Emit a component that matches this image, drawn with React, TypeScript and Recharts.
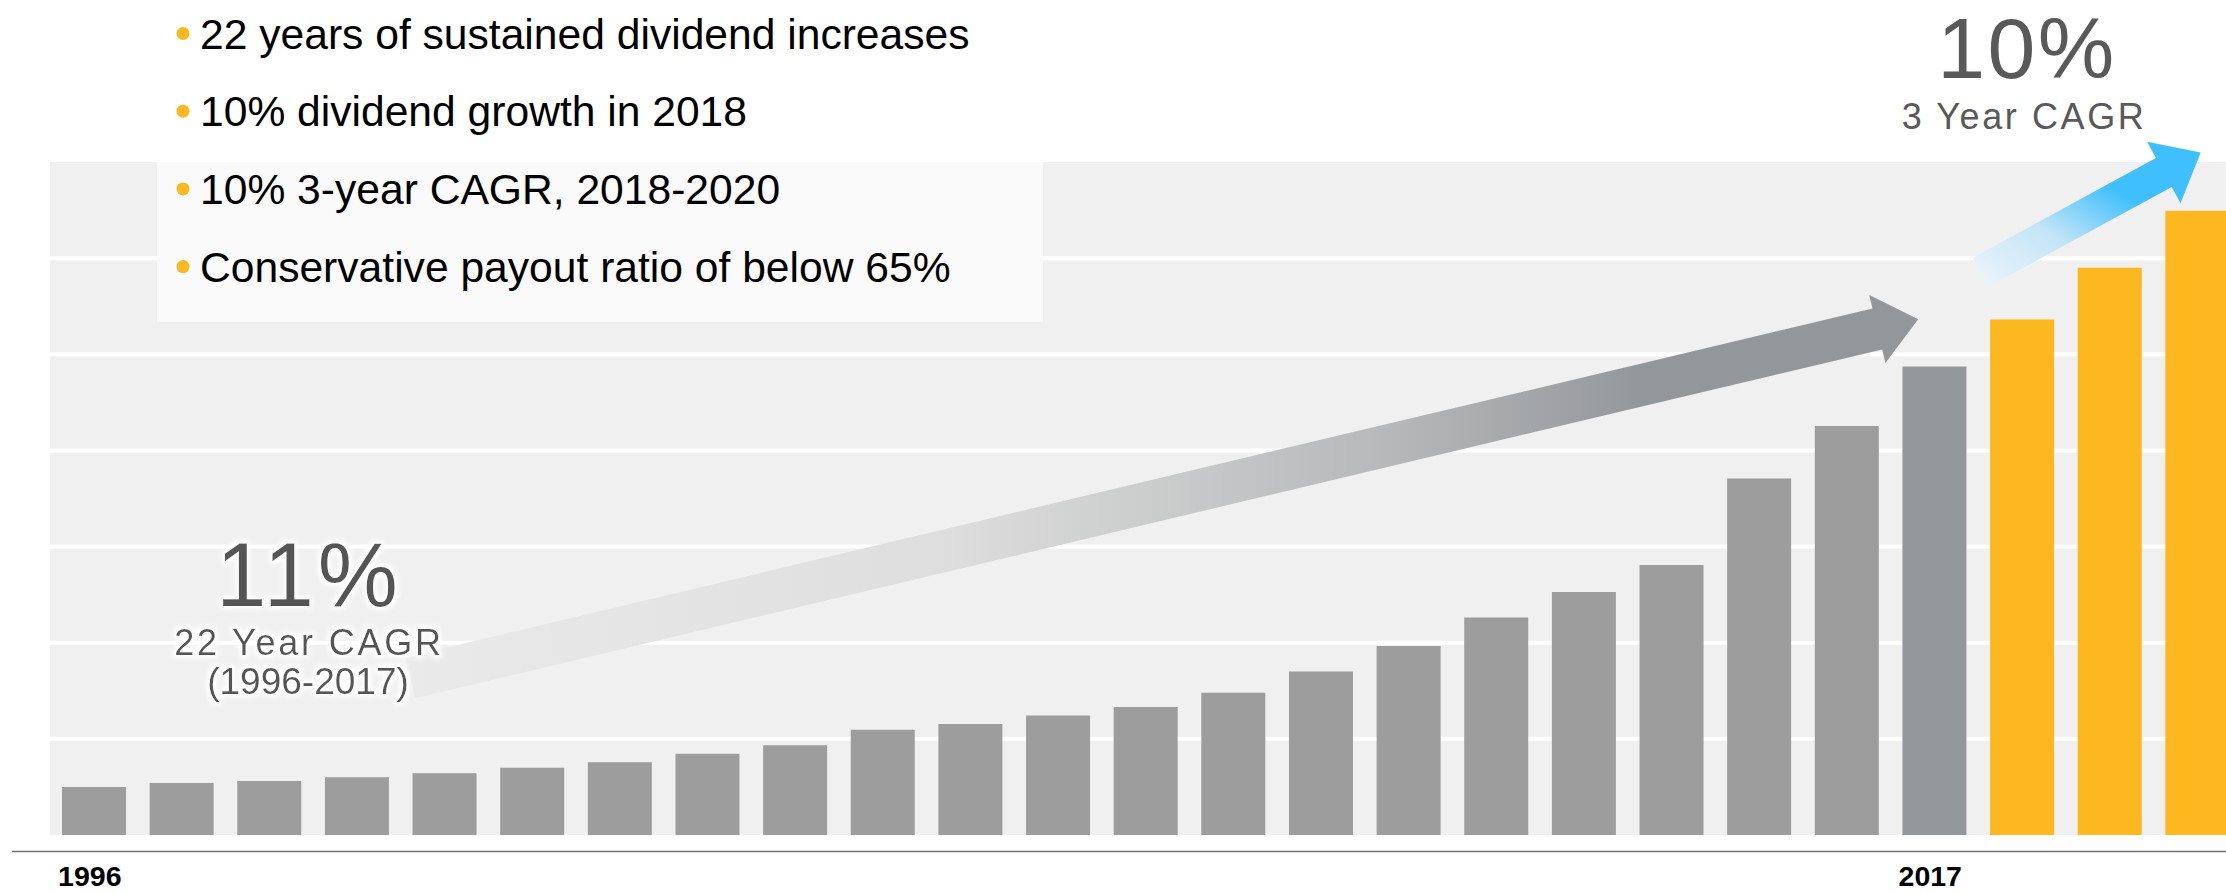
import React from "react";
import { Bar, BarChart, CartesianGrid, Cell, ReferenceLine, XAxis, YAxis } from "recharts";

// dividend per share, relative units (1996-2020)
const years = [
  "1996", "1997", "1998", "1999", "2000", "2001", "2002", "2003", "2004", "2005", "2006", "2007", "2008",
  "2009", "2010", "2011", "2012", "2013", "2014", "2015", "2016", "2017", "2018", "2019", "2020",
];
const dividends = [
  0.499, 0.541, 0.561, 0.6, 0.642, 0.7, 0.756, 0.844, 0.933, 1.095, 1.154, 1.243, 1.331,
  1.479, 1.7, 1.965, 2.262, 2.527, 2.808, 3.708, 4.253, 4.874, 5.361, 5.899, 6.492,
];
const tickLabels = ["1996", "2017"];
const gridValues = [0, 1, 2, 3, 4, 5, 6, 7];
const bullets = [
  "22 years of sustained dividend increases",
  "10% dividend growth in 2018",
  "10% 3-year CAGR, 2018-2020",
  "Conservative payout ratio of below 65%",
];
const histArrow = [{ x: "2000", y: 1.719 }, { x: "2017", y: 5.404 }];
const fwdArrow = [{ x: "2018", y: 6.087 }, { x: "2020", y: 7.08 }];

const data = years.map((year, i) => ({ year, dividend: dividends[i] }));

const FONT = '"Liberation Sans", Arial, sans-serif';

function barColor(year: string) {
  if (year === "2017") return "#95989b";
  return Number(year) > 2017 ? "#fdb71f" : "#9d9d9d";
}

function arrow(grad: string, w: number, hw: number, hl: number, back: number, fwd: number) {
  return (props: any) => {
    const { x1, y1, x2, y2 } = props;
    const len = Math.hypot(x2 - x1, y2 - y1);
    const ux = (x2 - x1) / len;
    const uy = (y2 - y1) / len;
    const nx = -uy;
    const ny = ux;
    const sx = x1 - ux * back, sy = y1 - uy * back;
    const tx = x2 + ux * fwd, ty = y2 + uy * fwd;
    const bx = tx - ux * hl, by = ty - uy * hl;
    const pts = [
      [sx + nx * w, sy + ny * w],
      [bx + nx * w, by + ny * w],
      [bx + nx * hw, by + ny * hw],
      [tx, ty],
      [bx - nx * hw, by - ny * hw],
      [bx - nx * w, by - ny * w],
      [sx - nx * w, sy - ny * w],
    ];
    return <polygon points={pts.map((p) => p.join(",")).join(" ")} fill={`url(#${grad})`} />;
  };
}

function YearTick(props: any) {
  const { x, y, payload } = props;
  if (!tickLabels.includes(payload.value)) return null;
  return (
    <text x={x - 4} y={y + 51} textAnchor="middle" fontFamily={FONT} fontWeight="bold" fontSize={28.5} fill="#000">
      {payload.value}
    </text>
  );
}

export default function App() {
  return (
    <div style={{ position: "absolute", left: 0, top: 0, width: 2226, height: 894, overflow: "hidden", background: "#fff" }}>
      <svg width={0} height={0} style={{ position: "absolute" }}>
        <defs>
          <linearGradient id="histGrad" x1="0" y1="0" x2="1" y2="0">
            <stop offset="0%" stopColor="#eaeaea" />
            <stop offset="35%" stopColor="#dedede" />
            <stop offset="65%" stopColor="#b6b8b9" />
            <stop offset="82%" stopColor="#94979a" />
            <stop offset="100%" stopColor="#94979a" />
          </linearGradient>
          <linearGradient id="fwdGrad" x1="0" y1="1" x2="1" y2="0">
            <stop offset="0%" stopColor="#eef5fa" />
            <stop offset="35%" stopColor="#c4e5f7" />
            <stop offset="65%" stopColor="#40bffd" />
            <stop offset="100%" stopColor="#40bffd" />
          </linearGradient>
          <filter id="glow" x="-20%" y="-30%" width="140%" height="160%">
            <feMorphology in="SourceAlpha" operator="dilate" radius="3" result="d" />
            <feGaussianBlur in="d" stdDeviation="2.5" result="b" />
            <feFlood floodColor="#ffffff" />
            <feComposite in2="b" operator="in" result="g" />
            <feMerge>
              <feMergeNode in="g" />
              <feMergeNode in="SourceGraphic" />
            </feMerge>
          </filter>
        </defs>
      </svg>

      <BarChart width={2241} height={894} data={data} margin={{ top: 162, right: 0, bottom: 29, left: 50 }} barSize={64}>
        <CartesianGrid vertical={false} horizontalValues={[1, 2, 3, 4, 5, 6]} stroke="#ffffff" strokeWidth={4} fill="#f0f0f0" />
        <XAxis dataKey="year" interval={0} height={30} tickLine={false} axisLine={false} tickSize={0} tickMargin={0} tick={<YearTick />} />
        <YAxis hide domain={[0, 7]} ticks={gridValues} />
        <Bar dataKey="dividend" isAnimationActive={false}>
          {data.map((d) => (
            <Cell key={d.year} fill={barColor(d.year)} />
          ))}
        </Bar>
        <ReferenceLine segment={histArrow} ifOverflow="visible" shape={arrow("histGrad", 21, 35, 42, 35, -16.5)} />
        <ReferenceLine segment={fwdArrow} ifOverflow="visible" shape={arrow("fwdGrad", 16.5, 35, 42, 47, 4)} />
      </BarChart>

      <svg width={2226} height={894} style={{ position: "absolute", left: 0, top: 0, pointerEvents: "none" }}>
        <rect x={157} y={162} width={886} height={160} fill="#fafafa" />
        {bullets.map((b, i) => {
          const base = 48.5 + i * 77.7;
          return (
            <g key={b}>
              <circle cx={183} cy={base - 15} r={6.5} fill="#fdb71f" />
              <text x={200} y={base} fontFamily={FONT} fontSize={42.6} fill="#000">
                {b}
              </text>
            </g>
          );
        })}

        <text x={2027} y={78} textAnchor="middle" fontFamily={FONT} fontSize={86} letterSpacing={2.5} fill="#595959">10%</text>
        <text x={2024} y={129} textAnchor="middle" fontFamily={FONT} fontSize={36} letterSpacing={2.6} fill="#595959">3 Year CAGR</text>

        <g filter="url(#glow)">
          <text x={309} y={606} textAnchor="middle" fontFamily={FONT} fontSize={90} letterSpacing={4} fill="#555">11%</text>
          <text x={309} y={655} textAnchor="middle" fontFamily={FONT} fontSize={36} letterSpacing={2.8} fill="#555">22 Year CAGR</text>
          <text x={308} y={694} textAnchor="middle" fontFamily={FONT} fontSize={37} fill="#555">(1996-2017)</text>
        </g>

        <line x1={12} y1={851.5} x2={2226} y2={851.5} stroke="#707070" strokeWidth={1.5} />
      </svg>
    </div>
  );
}
